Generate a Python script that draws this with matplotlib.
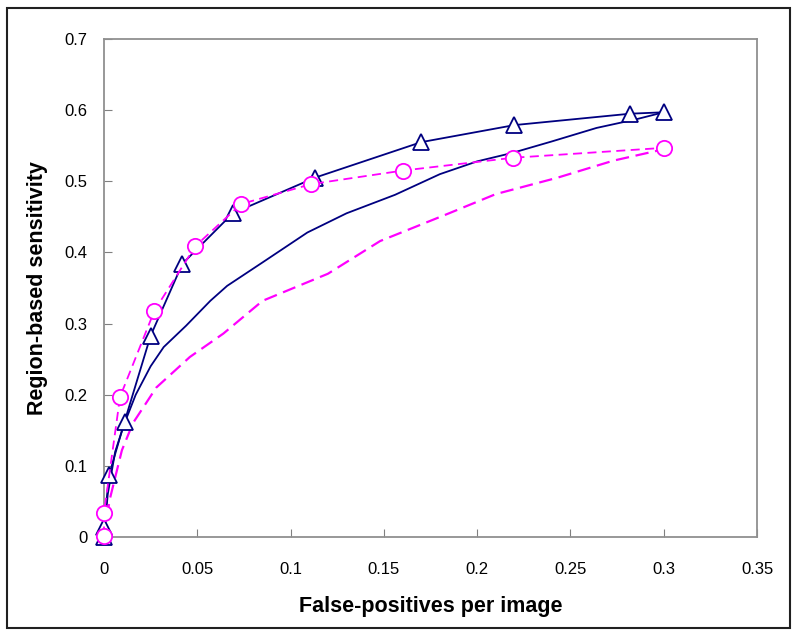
import matplotlib
matplotlib.use("Agg")
import matplotlib.pyplot as plt
from matplotlib.patches import Rectangle

plt.rcParams['font.family'] = ['Liberation Sans', 'DejaVu Sans']

# --- data ---
tri_x = [0, 0, 0.0027, 0.011, 0.025, 0.042, 0.069, 0.113, 0.170, 0.220, 0.282, 0.300]
tri_y = [0, 0.014, 0.087, 0.162, 0.283, 0.384, 0.455, 0.505, 0.555, 0.579, 0.595, 0.597]

circ_x = [0, 0, 0.0086, 0.027, 0.049, 0.0735, 0.111, 0.160, 0.219, 0.300]
circ_y = [0.002, 0.034, 0.197, 0.318, 0.409, 0.468, 0.496, 0.515, 0.533, 0.547]

navy_x = [0, 0.002, 0.006, 0.011, 0.017, 0.025, 0.032, 0.044, 0.057, 0.066, 0.085,
          0.109, 0.13, 0.156, 0.18, 0.2, 0.219, 0.24, 0.264, 0.285, 0.3]
navy_y = [0, 0.06, 0.12, 0.16, 0.2, 0.24, 0.267, 0.297, 0.332, 0.353, 0.386,
          0.428, 0.455, 0.481, 0.51, 0.528, 0.54, 0.556, 0.575, 0.587, 0.597]

mag_x = [0, 0.003, 0.0096, 0.0155, 0.028, 0.046, 0.064, 0.085, 0.12, 0.148,
         0.184, 0.21, 0.243, 0.273, 0.3]
mag_y = [0, 0.052, 0.122, 0.16, 0.21, 0.253, 0.286, 0.332, 0.37, 0.416,
         0.454, 0.482, 0.505, 0.529, 0.545]

x_ticks = [0, 0.05, 0.1, 0.15, 0.2, 0.25, 0.3, 0.35]
x_labels = ['0', '0.05', '0.1', '0.15', '0.2', '0.25', '0.3', '0.35']
y_ticks = [0, 0.1, 0.2, 0.3, 0.4, 0.5, 0.6, 0.7]
y_labels = ['0', '0.1', '0.2', '0.3', '0.4', '0.5', '0.6', '0.7']

NAVY = '#000080'
MAGENTA = '#FF00FF'

fig = plt.figure(figsize=(8, 6.38), dpi=100)
ax = fig.add_axes([104 / 800, 101 / 638, 653 / 800, 498 / 638])

# curves without markers
ax.plot(navy_x, navy_y, color=NAVY, lw=1.3)
ax.plot(mag_x, mag_y, color=MAGENTA, lw=1.6, dashes=(6, 3))

# curves with markers
ax.plot(tri_x, tri_y, color=NAVY, lw=1.3, marker='^', markersize=12,
        markerfacecolor='white', markeredgecolor=NAVY, markeredgewidth=1.3,
        clip_on=False, zorder=4)
ax.plot(circ_x, circ_y, color=MAGENTA, lw=1.3, dashes=(5, 3), marker='o',
        markersize=11, markerfacecolor='white', markeredgecolor=MAGENTA,
        markeredgewidth=1.3, clip_on=False, zorder=5)

ax.set_xlim(0, 0.35)
ax.set_ylim(0, 0.7)
ax.set_xticks(x_ticks)
ax.set_xticklabels(x_labels)
ax.set_yticks(y_ticks)
ax.set_yticklabels(y_labels)
ax.tick_params(direction='in', length=6, color='#808080', labelsize=12, pad=12)
ax.tick_params(axis='x', pad=18)

for s in ax.spines.values():
    s.set_color('#909090')
    s.set_linewidth(1.3)

ax.set_xlabel('False-positives per image', fontsize=15.5, fontweight='bold', labelpad=14)
ax.set_ylabel('Region-based sensitivity', fontsize=15.5, fontweight='bold', labelpad=12)

# outer chart border
fig.patches.append(Rectangle((7 / 800, 10 / 638), 783 / 800, 620 / 638,
                             transform=fig.transFigure, fill=False,
                             edgecolor='#202020', lw=1.5))

fig.savefig('out.png', dpi=100)
